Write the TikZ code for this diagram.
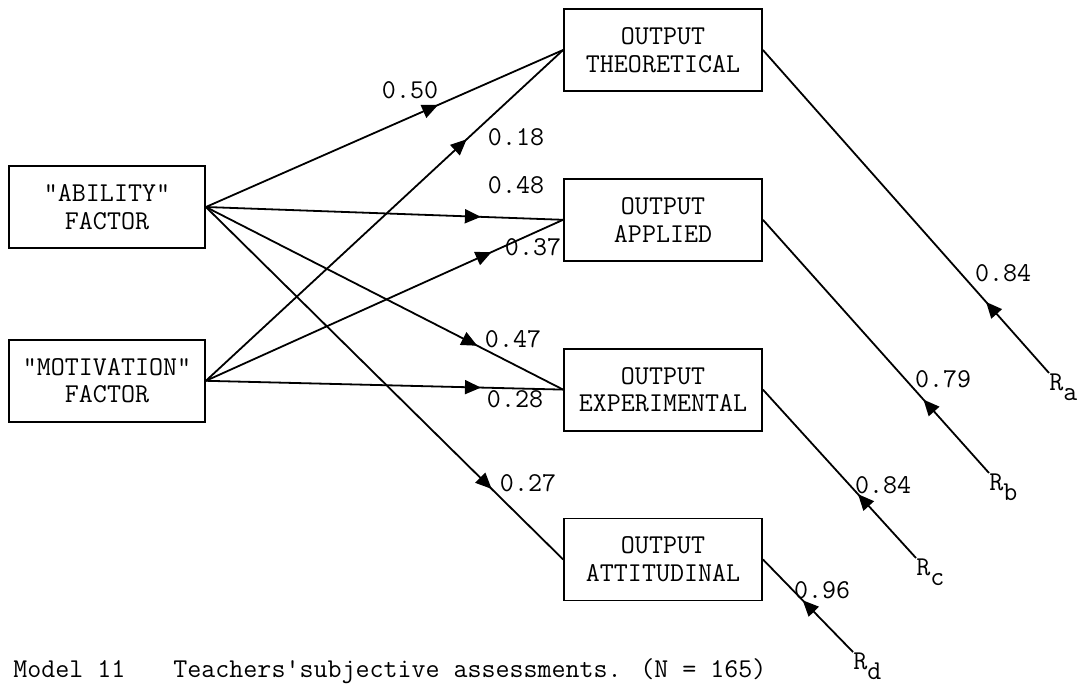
\documentclass[tikz,border=0pt]{standalone}
\usepackage{fontspec}
\newfontfamily\tw{Latin Modern Mono}
\usetikzlibrary{arrows.meta, positioning, decorations.markings}

\begin{document}
\begin{tikzpicture}[
  x=0.5pt, y=-0.5pt,
  box/.style={draw, line width=0.9pt, align=center, font=\tw\fontsize{13.6}{13.8}\selectfont,
    minimum width=98pt, minimum height=41pt, inner sep=0pt},
  coef/.style={font=\tw\fontsize{13.6}{14}\selectfont, inner sep=0pt},
  resid/.style={font=\tw\fontsize{13.6}{14}\selectfont, inner sep=0pt, anchor=north west},
  link/.style={line width=0.9pt, postaction={decorate},
    decoration={markings, mark=at position #1 with {\arrow{Triangle[length=8pt, width=7pt]}}}},
]
  \useasboundingbox (0,0) rectangle (1079,684);

  % factors
  \node[box] (ability) at (107,207) {"ABILITY"\\FACTOR};
  \node[box, below=45pt of ability] (motivation) {"MOTIVATION"\\FACTOR};

  % outputs
  \node[box, minimum width=99pt] (theo) at (663,50) {OUTPUT\\THEORETICAL};
  \node[box, minimum width=99pt, below=43pt of theo] (applied) {OUTPUT\\APPLIED};
  \node[box, minimum width=99pt, below=43pt of applied] (exper) {OUTPUT\\EXPERIMENTAL};
  \node[box, minimum width=99pt, below=43pt of exper] (attit) {OUTPUT\\ATTITUDINAL};

  % residuals
  \node[resid] (ra) at (1049,373) {R\raisebox{-5pt}{a}};
  \node[resid] (rb) at (989,473) {R\raisebox{-5pt}{b}};
  \node[resid] (rc) at (916,558) {R\raisebox{-5pt}{c}};
  \node[resid] (rd) at (853,652) {R\raisebox{-5pt}{d}};

  \draw[link=0.65] (ability.east) -- (theo.west);
  \draw[link=0.73] (motivation.east) -- (theo.west);
  \draw[link=0.77] (ability.east) -- (applied.west);
  \draw[link=0.80] (motivation.east) -- (applied.west);
  \draw[link=0.76] (ability.east) -- (exper.west);
  \draw[link=0.77] (motivation.east) -- (exper.west);
  \draw[link=0.80] (ability.east) -- (attit.west);

  \draw[link=0.22] (ra.north west) -- (theo.east);
  \draw[link=0.29] (rb.north west) -- (applied.east);
  \draw[link=0.38] (rc.north west) -- (exper.east);
  \draw[link=0.56] (rd.north west) -- (attit.east);

  % path coefficients
  \node[coef] (c50) at (410,90) {0.50};
  \node[coef] (c18) at (516,137) {0.18};
  \node[coef] (c48) at (516,185) {0.48};
  \node[coef] (c37) at (533,247) {0.37};
  \node[coef] (c47) at (513,339) {0.47};
  \node[coef] (c28) at (515,399) {0.28};
  \node[coef] (c27) at (528,483) {0.27};
  \node[coef] (ca) at (1003,273) {0.84};
  \node[coef] (cb) at (943,379) {0.79};
  \node[coef] (cc) at (883,485) {0.84};
  \node[coef] (cd) at (822,590) {0.96};

  \node[font=\tw\fontsize{13.6}{14}\selectfont, anchor=base west, inner sep=0pt] (caption)
    at (13,677) {Model 11\hspace{24pt}Teachers'subjective assessments. (N = 165)};
\end{tikzpicture}
\end{document}
